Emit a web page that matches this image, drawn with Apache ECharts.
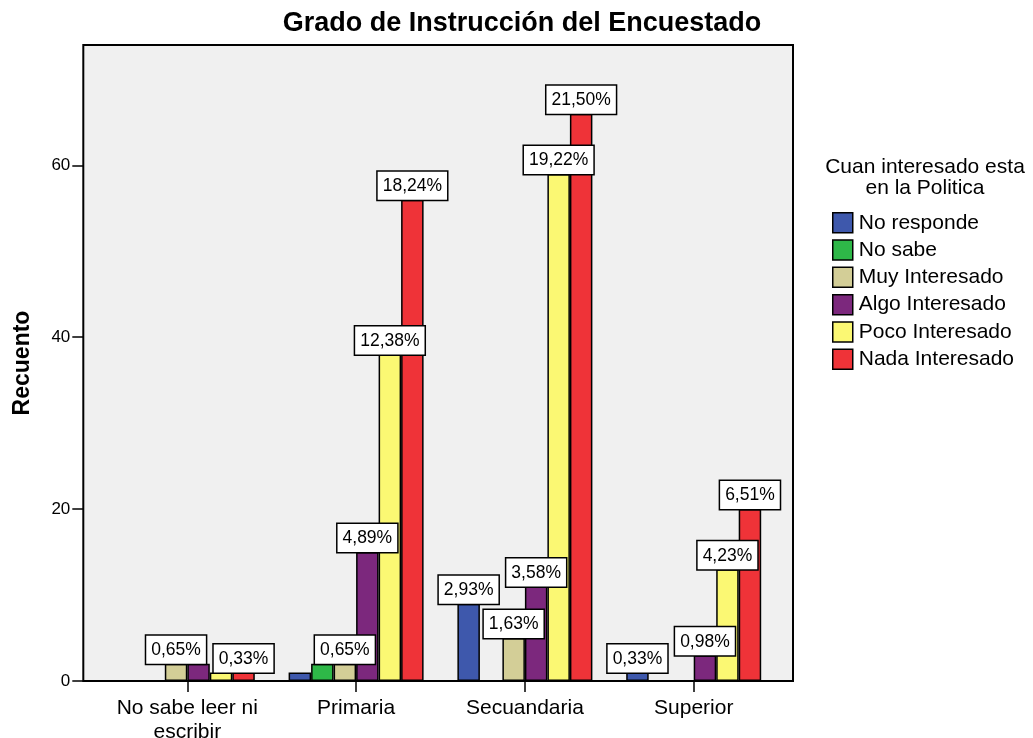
<!DOCTYPE html>
<html>
<head>
<meta charset="utf-8">
<script src="https://cdn.jsdelivr.net/npm/echarts@6/dist/echarts.min.js"></script>
<style>html,body{margin:0;padding:0;background:#fff}#c{width:1033px;height:738px}</style>
</head>
<body>
<div id="c"></div>
<script>
const categories = ['No sabe leer ni\nescribir', 'Primaria', 'Secuandaria', 'Superior'];
const seriesNames = ['No responde', 'No sabe', 'Muy Interesado', 'Algo Interesado', 'Poco Interesado', 'Nada Interesado'];
const seriesColors = ['#3E58AC', '#2EB848', '#D3CE97', '#7C287D', '#FBF873', '#EF3338'];
const noResponde = [0, 1, 9, 1];
const noSabe = [0, 2, 0, 0];
const muyInteresado = [2, 2, 5, 0];
const algoInteresado = [2, 15, 11, 3];
const pocoInteresado = [1, 38, 59, 13];
const nadaInteresado = [1, 56, 66, 20];
const noRespondeLbl = [null, null, '2,93%', '0,33%'];
const noSabeLbl = [null, null, null, null];
const muyLbl = ['0,65%', '0,65%', '1,63%', null];
const algoLbl = [null, '4,89%', '3,58%', '0,98%'];
const pocoLbl = [null, '12,38%', '19,22%', '4,23%'];
const nadaLbl = ['0,33%', '18,24%', '21,50%', '6,51%'];
const yTicks = [0, 20, 40, 60];

const values = [noResponde, noSabe, muyInteresado, algoInteresado, pocoInteresado, nadaInteresado];
const labels = [noRespondeLbl, noSabeLbl, muyLbl, algoLbl, pocoLbl, nadaLbl];
const FONT = "'Liberation Sans', Arial, sans-serif";

const chart = echarts.init(document.getElementById('c'));
const series = seriesNames.map((name, i) => ({
  name: name,
  type: 'bar',
  barWidth: 22.5,
  barGap: '0%',
  itemStyle: { color: seriesColors[i], borderColor: '#000', borderWidth: 1.5 },
  data: values[i].map((v, j) => ({
    value: v === 0 ? null : v,
    label: labels[i][j] ? {
      show: true,
      position: 'top',
      distance: 0,
      formatter: labels[i][j],
      backgroundColor: '#fff',
      borderColor: '#000',
      borderWidth: 1.5,
      padding: [4, 5, 3, 5],
      color: '#000',
      fontSize: 17.5,
      lineHeight: 21,
      fontFamily: FONT
    } : { show: false }
  }))
}));

chart.setOption({
  animation: false,
  backgroundColor: '#fff',
  grid: { left: 102.9, right: 254.9, top: 45, bottom: 57, containLabel: false, outerBoundsMode: 'none' },
  graphic: [
    { type: 'rect', z: -1, shape: { x: 83.3, y: 45, width: 709.7, height: 636 },
      style: { fill: '#F0F0F0', stroke: '#000', lineWidth: 2 } },
    { type: 'text', x: 522, y: 24, style: { text: 'Grado de Instrucción del Encuestado', textAlign: 'center', textVerticalAlign: 'middle', verticalAlign: 'middle', fontSize: 27, fontWeight: 'bold', fontFamily: FONT, fill: '#000' } },
    { type: 'text', x: 925, y: 167, style: { text: 'Cuan interesado esta', textAlign: 'center', textVerticalAlign: 'middle', verticalAlign: 'middle', fontSize: 21, fontFamily: FONT, fill: '#000' } },
    { type: 'text', x: 925, y: 188, style: { text: 'en la Politica', textAlign: 'center', textVerticalAlign: 'middle', verticalAlign: 'middle', fontSize: 21, fontFamily: FONT, fill: '#000' } }
  ],
  legend: {
    orient: 'vertical',
    left: 832,
    top: 212,
    padding: 0,
    itemWidth: 20,
    itemHeight: 20,
    itemGap: 5.8,
    icon: 'rect',
    itemStyle: { borderColor: '#000', borderWidth: 1.5 },
    textStyle: { fontSize: 21, fontFamily: FONT, color: '#000', padding: [0, 0, 0, 1] },
    data: seriesNames
  },
  xAxis: {
    type: 'category',
    data: categories,
    axisLine: { show: false },
    axisTick: { show: true, alignWithLabel: true, length: 11, lineStyle: { color: '#000', width: 1.5 } },
    axisLabel: { color: '#000', fontSize: 21, fontFamily: FONT, margin: 15, lineHeight: 24, interval: 0 }
  },
  yAxis: {
    type: 'value',
    min: 0,
    max: 74,
    interval: 20,
    offset: 19.6,
    name: 'Recuento',
    nameLocation: 'middle',
    nameGap: 49,
    nameTextStyle: { fontSize: 23, fontWeight: 'bold', fontFamily: FONT, color: '#000' },
    splitLine: { show: false },
    axisLine: { show: false },
    axisTick: { show: true, length: 11, customValues: yTicks, lineStyle: { color: '#000', width: 1.5 } },
    axisLabel: { color: '#000', fontSize: 17, fontFamily: FONT, margin: 13, customValues: yTicks }
  },
  series: series
});
</script>
</body>
</html>
